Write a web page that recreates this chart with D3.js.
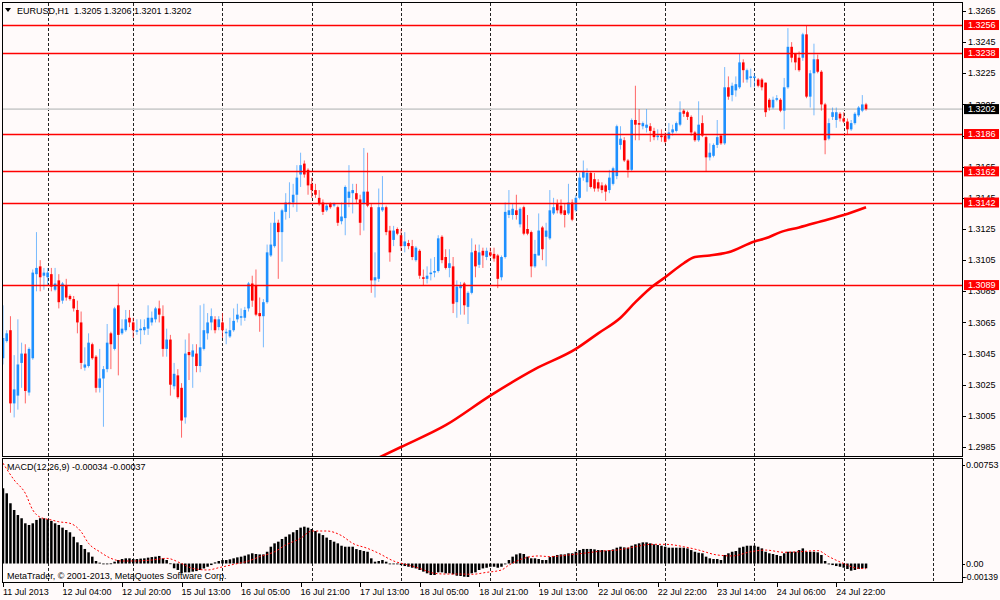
<!DOCTYPE html>
<html><head><meta charset="utf-8">
<script src="https://cdn.jsdelivr.net/npm/d3@7/dist/d3.min.js"></script>
<style>html,body{margin:0;padding:0;background:#fffafa;}svg{display:block;font-family:"Liberation Sans",Arial,sans-serif;}</style>
</head><body><svg id="c" width="1000" height="600"></svg>
<script>
const headerText = "EURUSD,H1  1.3205 1.3206 1.3201 1.3202";
const macdText = "MACD(12,26,9) -0.00034 -0.00037";
const copyText = "MetaTrader, \u00a9 2001-2013, MetaQuotes Software Corp.";

const openP = [1.3042,1.3053,1.3060,1.3013,1.3018,1.3039,1.3045,1.3020,1.3042,1.3096,1.3101,1.3095,1.3094,1.3096,1.3086,1.3092,1.3079,1.3089,1.3082,1.3080,
1.3073,1.3065,1.3036,1.3037,1.3051,1.3043,1.3023,1.3029,1.3035,1.3058,1.3048,1.3076,1.3058,1.3060,1.3068,1.3065,1.3059,1.3060,1.3060,1.3061,
1.3065,1.3067,1.3074,1.3069,1.3048,1.3054,1.3024,1.3031,1.3023,1.3004,1.3046,1.3043,1.3045,1.3037,1.3048,1.3058,1.3065,1.3067,1.3062,1.3065,
1.3058,1.3056,1.3060,1.3067,1.3068,1.3068,1.3074,1.3090,1.3089,1.3071,1.3069,1.3078,1.3108,1.3114,1.3129,1.3123,1.3136,1.3141,1.3142,1.3147,
1.3160,1.3167,1.3163,1.3154,1.3150,1.3145,1.3142,1.3137,1.3141,1.3140,1.3139,1.3130,1.3132,1.3145,1.3148,1.3148,1.3144,1.3141,1.3149,1.3139,
1.3092,1.3093,1.3137,1.3139,1.3124,1.3118,1.3125,1.3121,1.3114,1.3116,1.3114,1.3105,1.3111,1.3094,1.3093,1.3096,1.3097,1.3098,1.3120,1.3107,
1.3100,1.3101,1.3078,1.3087,1.3090,1.3075,1.3084,1.3111,1.3102,1.3111,1.3107,1.3110,1.3109,1.3108,1.3094,1.3107,1.3134,1.3134,1.3137,1.3128,
1.3139,1.3125,1.3123,1.3101,1.3108,1.3126,1.3120,1.3119,1.3135,1.3141,1.3140,1.3137,1.3135,1.3142,1.3137,1.3145,1.3158,1.3155,1.3161,1.3157,
1.3155,1.3153,1.3153,1.3150,1.3154,1.3159,1.3179,1.3182,1.3169,1.3163,1.3195,1.3193,1.3191,1.3190,1.3191,1.3188,1.3184,1.3185,1.3185,1.3183,
1.3187,1.3188,1.3192,1.3201,1.3200,1.3197,1.3187,1.3182,1.3193,1.3184,1.3171,1.3172,1.3179,1.3185,1.3180,1.3216,1.3211,1.3214,1.3216,1.3232,
1.3221,1.3222,1.3222,1.3221,1.3221,1.3219,1.3208,1.3203,1.3208,1.3208,1.3201,1.3216,1.3242,1.3238,1.3235,1.3235,1.3250,1.3210,1.3225,1.3234,
1.3226,1.3205,1.3183,1.3197,1.3195,1.3199,1.3196,1.3194,1.3189,1.3193,1.3198,1.3201,1.3205];
const highP = [1.3076,1.3060,1.3069,1.3044,1.3067,1.3052,1.3051,1.3049,1.3099,1.3123,1.3105,1.3100,1.3100,1.3100,1.3100,1.3096,1.3091,1.3093,1.3083,1.3082,
1.3079,1.3072,1.3049,1.3058,1.3052,1.3044,1.3048,1.3037,1.3064,1.3059,1.3075,1.3090,1.3067,1.3073,1.3073,1.3068,1.3067,1.3067,1.3067,1.3076,
1.3072,1.3075,1.3079,1.3076,1.3061,1.3057,1.3039,1.3035,1.3026,1.3054,1.3058,1.3051,1.3051,1.3076,1.3077,1.3071,1.3074,1.3069,1.3069,1.3071,
1.3061,1.3068,1.3074,1.3077,1.3074,1.3075,1.3091,1.3095,1.3099,1.3081,1.3080,1.3115,1.3129,1.3136,1.3131,1.3138,1.3148,1.3155,1.3154,1.3166,
1.3174,1.3169,1.3164,1.3158,1.3154,1.3150,1.3144,1.3141,1.3142,1.3142,1.3140,1.3142,1.3153,1.3166,1.3154,1.3154,1.3147,1.3177,1.3174,1.3141,
1.3110,1.3151,1.3159,1.3140,1.3127,1.3127,1.3126,1.3125,1.3123,1.3118,1.3118,1.3114,1.3112,1.3099,1.3101,1.3106,1.3107,1.3121,1.3121,1.3112,
1.3112,1.3107,1.3092,1.3091,1.3091,1.3085,1.3119,1.3115,1.3115,1.3113,1.3113,1.3113,1.3113,1.3109,1.3108,1.3142,1.3150,1.3141,1.3147,1.3139,
1.3140,1.3134,1.3124,1.3118,1.3135,1.3127,1.3129,1.3150,1.3145,1.3144,1.3144,1.3141,1.3154,1.3144,1.3147,1.3161,1.3169,1.3164,1.3162,1.3161,
1.3157,1.3155,1.3154,1.3163,1.3165,1.3192,1.3191,1.3184,1.3170,1.3196,1.3217,1.3202,1.3194,1.3202,1.3193,1.3190,1.3189,1.3189,1.3187,1.3193,
1.3192,1.3194,1.3207,1.3202,1.3201,1.3198,1.3188,1.3207,1.3198,1.3185,1.3180,1.3180,1.3195,1.3186,1.3229,1.3223,1.3219,1.3223,1.3238,1.3234,
1.3228,1.3228,1.3225,1.3222,1.3222,1.3219,1.3209,1.3210,1.3211,1.3209,1.3222,1.3254,1.3245,1.3238,1.3239,1.3251,1.3256,1.3227,1.3244,1.3237,
1.3227,1.3206,1.3196,1.3203,1.3203,1.3200,1.3200,1.3196,1.3195,1.3200,1.3204,1.3211,1.3206];
const lowP = [1.3038,1.3052,1.3007,1.3004,1.3009,1.3023,1.3013,1.3018,1.3041,1.3085,1.3085,1.3086,1.3089,1.3085,1.3085,1.3074,1.3077,1.3079,1.3079,1.3072,
1.3058,1.3035,1.3034,1.3036,1.3041,1.3020,1.3020,1.2998,1.3033,1.3035,1.3047,1.3031,1.3057,1.3059,1.3062,1.3055,1.3057,1.3051,1.3057,1.3057,
1.3063,1.3065,1.3065,1.3043,1.3043,1.3018,1.3022,1.3016,1.2991,1.3000,1.3028,1.3023,1.3033,1.3033,1.3047,1.3054,1.3060,1.3058,1.3060,1.3055,
1.3051,1.3055,1.3059,1.3065,1.3063,1.3066,1.3072,1.3075,1.3069,1.3059,1.3049,1.3077,1.3107,1.3113,1.3093,1.3104,1.3131,1.3132,1.3139,1.3136,
1.3152,1.3158,1.3147,1.3145,1.3145,1.3140,1.3134,1.3136,1.3138,1.3139,1.3127,1.3128,1.3121,1.3139,1.3135,1.3141,1.3121,1.3124,1.3139,1.3084,
1.3081,1.3091,1.3136,1.3121,1.3104,1.3114,1.3121,1.3111,1.3110,1.3112,1.3105,1.3104,1.3093,1.3089,1.3090,1.3092,1.3094,1.3097,1.3103,1.3099,
1.3094,1.3071,1.3068,1.3070,1.3070,1.3064,1.3083,1.3094,1.3100,1.3100,1.3105,1.3107,1.3104,1.3087,1.3092,1.3106,1.3132,1.3131,1.3131,1.3126,
1.3121,1.3121,1.3094,1.3100,1.3108,1.3105,1.3101,1.3118,1.3134,1.3135,1.3134,1.3126,1.3134,1.3130,1.3136,1.3144,1.3156,1.3149,1.3151,1.3149,
1.3149,1.3148,1.3143,1.3148,1.3153,1.3157,1.3176,1.3168,1.3158,1.3162,1.3182,1.3182,1.3189,1.3187,1.3181,1.3182,1.3182,1.3181,1.3180,1.3182,
1.3185,1.3187,1.3191,1.3197,1.3195,1.3185,1.3181,1.3181,1.3184,1.3162,1.3169,1.3171,1.3177,1.3179,1.3179,1.3208,1.3207,1.3210,1.3215,1.3219,
1.3219,1.3216,1.3216,1.3216,1.3214,1.3197,1.3201,1.3202,1.3207,1.3200,1.3189,1.3215,1.3232,1.3227,1.3226,1.3233,1.3209,1.3203,1.3198,1.3225,
1.3201,1.3173,1.3182,1.3195,1.3190,1.3194,1.3193,1.3186,1.3188,1.3192,1.3197,1.3200,1.3201];
const closeP = [1.3055,1.3058,1.3013,1.3022,1.3038,1.3045,1.3021,1.3048,1.3097,1.3100,1.3094,1.3097,1.3097,1.3088,1.3090,1.3078,1.3090,1.3081,1.3080,1.3074,
1.3065,1.3039,1.3038,1.3052,1.3042,1.3023,1.3029,1.3035,1.3052,1.3051,1.3074,1.3057,1.3061,1.3067,1.3065,1.3060,1.3060,1.3061,1.3062,1.3068,
1.3068,1.3074,1.3070,1.3048,1.3054,1.3025,1.3032,1.3017,1.3002,1.3045,1.3044,1.3047,1.3037,1.3049,1.3060,1.3065,1.3069,1.3060,1.3067,1.3060,
1.3059,1.3060,1.3066,1.3070,1.3069,1.3073,1.3090,1.3079,1.3070,1.3069,1.3078,1.3110,1.3115,1.3129,1.3123,1.3137,1.3142,1.3142,1.3147,1.3158,
1.3166,1.3160,1.3153,1.3150,1.3147,1.3141,1.3136,1.3140,1.3139,1.3141,1.3129,1.3133,1.3152,1.3149,1.3150,1.3144,1.3129,1.3149,1.3140,1.3092,
1.3094,1.3139,1.3139,1.3123,1.3110,1.3124,1.3122,1.3114,1.3117,1.3114,1.3107,1.3113,1.3095,1.3093,1.3095,1.3097,1.3098,1.3119,1.3105,1.3100,
1.3103,1.3077,1.3088,1.3089,1.3076,1.3084,1.3110,1.3101,1.3110,1.3108,1.3111,1.3108,1.3106,1.3093,1.3107,1.3136,1.3137,1.3138,1.3134,1.3138,
1.3122,1.3122,1.3101,1.3109,1.3124,1.3112,1.3124,1.3137,1.3139,1.3137,1.3135,1.3134,1.3142,1.3131,1.3145,1.3158,1.3162,1.3161,1.3152,1.3151,
1.3151,1.3150,1.3149,1.3158,1.3164,1.3191,1.3183,1.3169,1.3163,1.3195,1.3192,1.3192,1.3193,1.3192,1.3188,1.3184,1.3185,1.3184,1.3181,1.3187,
1.3189,1.3193,1.3200,1.3199,1.3197,1.3187,1.3182,1.3192,1.3185,1.3171,1.3174,1.3179,1.3184,1.3180,1.3216,1.3210,1.3217,1.3218,1.3232,1.3227,
1.3227,1.3223,1.3223,1.3217,1.3216,1.3200,1.3203,1.3208,1.3209,1.3201,1.3216,1.3242,1.3235,1.3232,1.3227,1.3250,1.3210,1.3225,1.3234,1.3226,
1.3205,1.3182,1.3193,1.3200,1.3200,1.3196,1.3194,1.3189,1.3193,1.3199,1.3203,1.3205,1.3202];

const macdHist = [0.00537,0.00501,0.00430,0.00382,0.00346,0.00323,0.00287,0.00275,0.00287,0.00311,0.00323,0.00323,0.00316,0.00304,0.00287,0.00275,0.00256,0.00239,0.00223,0.00191,
0.00151,0.00132,0.00104,0.00080,0.00049,0.00018,0.00006,-0.00001,0.00000,0.00001,0.00013,0.00025,0.00032,0.00037,0.00037,0.00032,0.00032,0.00035,0.00037,0.00042,
0.00046,0.00049,0.00054,0.00037,0.00025,0.00001,-0.00034,-0.00046,-0.00070,-0.00063,-0.00063,-0.00058,-0.00054,-0.00046,-0.00035,-0.00023,-0.00011,0.00008,0.00018,0.00025,
0.00025,0.00030,0.00037,0.00044,0.00049,0.00056,0.00065,0.00073,0.00068,0.00065,0.00065,0.00084,0.00120,0.00144,0.00156,0.00175,0.00191,0.00208,0.00223,0.00239,
0.00256,0.00263,0.00256,0.00246,0.00232,0.00215,0.00203,0.00185,0.00168,0.00156,0.00144,0.00127,0.00120,0.00120,0.00120,0.00103,0.00096,0.00089,0.00084,0.00037,
0.00013,0.00018,0.00025,0.00013,-0.00001,0.00000,-0.00002,-0.00011,-0.00018,-0.00023,-0.00030,-0.00035,-0.00046,-0.00058,-0.00070,-0.00082,-0.00082,-0.00063,-0.00063,-0.00070,
-0.00070,-0.00077,-0.00087,-0.00089,-0.00094,-0.00096,-0.00070,-0.00063,-0.00046,-0.00035,-0.00030,-0.00023,-0.00023,-0.00030,-0.00023,-0.00006,0.00025,0.00049,0.00065,0.00073,
0.00068,0.00049,0.00037,0.00037,0.00032,0.00025,0.00025,0.00046,0.00054,0.00061,0.00065,0.00065,0.00073,0.00073,0.00084,0.00096,0.00104,0.00104,0.00104,0.00101,
0.00096,0.00096,0.00092,0.00096,0.00101,0.00113,0.00120,0.00115,0.00113,0.00127,0.00137,0.00144,0.00151,0.00151,0.00144,0.00137,0.00132,0.00127,0.00120,0.00113,
0.00113,0.00113,0.00113,0.00113,0.00108,0.00096,0.00084,0.00077,0.00073,0.00049,0.00037,0.00032,0.00032,0.00025,0.00061,0.00073,0.00084,0.00089,0.00113,0.00120,
0.00127,0.00127,0.00127,0.00120,0.00108,0.00084,0.00073,0.00068,0.00061,0.00054,0.00073,0.00084,0.00084,0.00084,0.00096,0.00108,0.00084,0.00084,0.00084,0.00080,
0.00061,0.00018,-0.00006,-0.00011,-0.00018,-0.00023,-0.00030,-0.00039,-0.00051,-0.00046,-0.00039,-0.00035,-0.00034];

const signalIdx = [0,3,6,8,10,13,15,18,21,23,26,29,32,35,40,44,48,51,55,58,62,66,69,73,76,80,83,87,91,94,98,101,105,109,112,116,119,123,126,130,134,136,140,144,147,152,156,161,165,170,174,178,183,187,192,196,201,205,210,214,219,222,226,229,232];
const signalVal = [0.00716,0.00596,0.00501,0.00382,0.00330,0.00311,0.00298,0.00287,0.00227,0.00144,0.00084,0.00037,0.00018,0.00018,0.00025,0.00037,0.00000,-0.00035,-0.00046,-0.00030,-0.00006,0.00018,0.00049,0.00084,0.00132,0.00180,0.00232,0.00232,0.00199,0.00144,0.00108,0.00073,0.00018,-0.00011,-0.00035,-0.00070,-0.00075,-0.00075,-0.00077,-0.00063,-0.00046,-0.00011,0.00037,0.00054,0.00049,0.00061,0.00073,0.00089,0.00096,0.00120,0.00137,0.00137,0.00120,0.00096,0.00061,0.00054,0.00084,0.00096,0.00080,0.00084,0.00092,0.00049,0.00000,-0.00030,-0.00037];

const maIdx = [100,107,119,131,143,154,160,166,170,174,178,183,186,190,195,202,205,209,214,220,226,232];
const maVal = [1.2977,1.2985,1.2999,1.3018,1.3035,1.3048,1.3058,1.3068,1.3078,1.3087,1.3094,1.3103,1.3107,1.3108,1.3110,1.3117,1.3119,1.3123,1.3126,1.3130,1.3134,1.3139];

const levelLines = [1.3256,1.3238,1.3186,1.3162,1.3142,1.3089];
const currentPrice = 1.3202;
const priceTicks = [1.3265,1.3245,1.3225,1.3205,1.3185,1.3165,1.3145,1.3125,1.3105,1.3085,1.3065,1.3045,1.3025,1.3005,1.2985];
const timeTickIdx = [0,16,32,48,64,80,96,112,128,144,160,176,192,208,224];
const timeTickLabels = ["11 Jul 2013","12 Jul 04:00","12 Jul 20:00","15 Jul 13:00","16 Jul 05:00","16 Jul 21:00","17 Jul 13:00","18 Jul 05:00","18 Jul 21:00","19 Jul 13:00","22 Jul 06:00","22 Jul 22:00","23 Jul 14:00","24 Jul 06:00","24 Jul 22:00"];
const dayStartIdx = [12,35,59,83,107,131,154,178,202,226,250];
const macdTicks = [0.00753,0.00,-0.00139];
const macdTickLabels = ["0.00753","0.00","-0.00139"];

const svg = d3.select('#c');
const BG = '#fffafa', BULL = '#1e90ff', BEAR = '#ff0000';
svg.append('rect').attr('width',1000).attr('height',600).attr('fill',BG);

const x = d3.scaleLinear().domain([0,258]).range([3, 3+3.72*258]);
const y = d3.scaleLinear().domain([1.2985,1.3265]).range([447,11]);
const ym = d3.scaleLinear().domain([-0.00139,0.00753]).range([583,458]);
const px = v => Math.round(v)+0.5;

const defs = svg.append('defs');
defs.append('clipPath').attr('id','cm').append('rect').attr('x',3).attr('y',3).attr('width',959).attr('height',453);
defs.append('clipPath').attr('id','cs').append('rect').attr('x',3).attr('y',459).attr('width',959).attr('height',123);

// vertical grid
svg.append('g').selectAll('line').data(dayStartIdx).join('line')
  .attr('x1',d=>px(x(d))).attr('x2',d=>px(x(d))).attr('y1',3).attr('y2',582)
  .attr('stroke','#222').attr('stroke-width',1).attr('stroke-dasharray','3,2')
  .attr('shape-rendering','crispEdges');

const gm = svg.append('g').attr('clip-path','url(#cm)');
// current price line
gm.append('line').attr('x1',3).attr('x2',962).attr('y1',y(currentPrice)).attr('y2',y(currentPrice))
  .attr('stroke','#cfcfcf').attr('stroke-width',1.6);

const bars = d3.range(openP.length).map(i=>({i,o:openP[i],h:highP[i],l:lowP[i],c:closeP[i]}));
const col = d => d.c >= d.o ? BULL : BEAR;
gm.append('g').selectAll('line').data(bars).join('line')
  .attr('x1',d=>x(d.i)).attr('x2',d=>x(d.i)).attr('y1',d=>y(d.h)).attr('y2',d=>y(d.l))
  .attr('stroke',col).attr('stroke-width',1).attr('stroke-opacity',0.6);
gm.append('g').selectAll('rect').data(bars).join('rect')
  .attr('x',d=>x(d.i)-1.3).attr('width',2.6)
  .attr('y',d=>Math.min(y(d.o),y(d.c)))
  .attr('height',d=>Math.max(1,Math.abs(y(d.o)-y(d.c))))
  .attr('fill',col);

// level lines (objects drawn over price)
gm.append('g').selectAll('line').data(levelLines).join('line')
  .attr('x1',3).attr('x2',962).attr('y1',d=>px(y(d))).attr('y2',d=>px(y(d)))
  .attr('stroke','#ff0000').attr('stroke-width',1.5);

// moving average
const maData = maIdx.map((d,k)=>[d,maVal[k]]);
gm.append('path').datum(maData)
  .attr('d', d3.line().x(d=>x(d[0])).y(d=>y(d[1])).curve(d3.curveMonotoneX))
  .attr('fill','none').attr('stroke','#ff0000').attr('stroke-width',2.6);

// MACD
const gs = svg.append('g').attr('clip-path','url(#cs)');
gs.append('g').selectAll('rect').data(macdHist).join('rect')
  .attr('x',(d,i)=>x(i)-1.25).attr('width',2.5)
  .attr('y',d=>Math.min(ym(d),ym(0)))
  .attr('height',d=>Math.max(0.8,Math.abs(ym(d)-ym(0))))
  .attr('fill','#000');
const sigData = signalIdx.map((d,k)=>[d,signalVal[k]]);
gs.append('path').datum(sigData)
  .attr('d', d3.line().x(d=>x(d[0])).y(d=>ym(d[1])).curve(d3.curveMonotoneX))
  .attr('fill','none').attr('stroke','#ff0000').attr('stroke-width',1).attr('stroke-dasharray','2,2');

// frames
svg.append('rect').attr('x',2.5).attr('y',2.5).attr('width',960).attr('height',454)
  .attr('fill','none').attr('stroke','#000').attr('stroke-width',1);
svg.append('rect').attr('x',2.5).attr('y',458.5).attr('width',960).attr('height',124)
  .attr('fill','none').attr('stroke','#000').attr('stroke-width',1);

// header
svg.append('path').attr('d','M5,8 L11,8 L8,12 Z').attr('fill','#000');
svg.append('text').attr('x',17).attr('y',13.5).attr('font-size',9).attr('fill','#000')
  .style('white-space','pre').attr('xml:space','preserve').text(headerText);

// right price axis
const ra = svg.append('g');
ra.selectAll('line').data(priceTicks).join('line')
  .attr('x1',963).attr('x2',966).attr('y1',d=>px(y(d))).attr('y2',d=>px(y(d))).attr('stroke','#000');
ra.selectAll('text').data(priceTicks).join('text')
  .attr('x',968).attr('y',d=>y(d)).attr('dy','0.35em').attr('font-size',9).attr('fill','#000')
  .text(d=>d.toFixed(4));

// level labels
const lv = svg.append('g');
lv.selectAll('rect').data(levelLines).join('rect')
  .attr('x',964).attr('y',d=>y(d)-5).attr('width',35).attr('height',10).attr('fill','#ff0000');
lv.selectAll('text').data(levelLines).join('text')
  .attr('x',968).attr('y',d=>y(d)).attr('dy','0.35em').attr('font-size',9).attr('fill','#fff')
  .text(d=>d.toFixed(4));
svg.append('rect').attr('x',964).attr('y',y(currentPrice)-5).attr('width',35).attr('height',10).attr('fill','#000');
svg.append('text').attr('x',968).attr('y',y(currentPrice)).attr('dy','0.35em').attr('font-size',9).attr('fill','#fff')
  .text(currentPrice.toFixed(4));

// MACD texts
svg.append('text').attr('x',7).attr('y',470).attr('font-size',9).attr('fill','#000').text(macdText);
svg.append('text').attr('x',7).attr('y',579).attr('font-size',9).attr('fill','#000').text(copyText);
const macdLabY = [ym(macdTicks[0])+7, ym(macdTicks[1]), ym(macdTicks[2])-6];
svg.append('g').selectAll('text').data(macdTickLabels).join('text')
  .attr('x',(d,k)=>k===2?964:966).attr('y',(d,k)=>macdLabY[k]).attr('dy','0.35em')
  .attr('font-size',(d,k)=>k===2?8.6:9).attr('fill','#000').text(d=>d);
svg.append('g').selectAll('line').data(macdLabY).join('line')
  .attr('x1',963).attr('x2',965).attr('y1',d=>px(d)).attr('y2',d=>px(d)).attr('stroke','#000');

// bottom time axis
const ta = svg.append('g');
ta.selectAll('line').data(timeTickIdx).join('line')
  .attr('x1',d=>px(x(d))).attr('x2',d=>px(x(d))).attr('y1',583).attr('y2',587).attr('stroke','#000');
ta.selectAll('text').data(timeTickIdx).join('text')
  .attr('x',d=>x(d)).attr('y',595).attr('font-size',9).attr('fill','#000')
  .text((d,k)=>timeTickLabels[k]);
</script></body></html>
